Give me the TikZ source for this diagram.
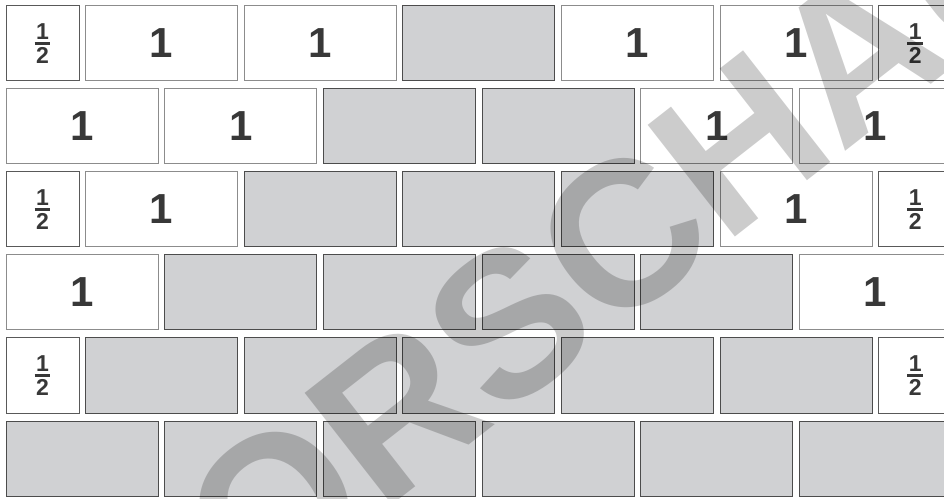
\documentclass[tikz,border=0pt]{standalone}
\usepackage{amsmath}
\usepackage{fontspec}
\setmainfont{Liberation Sans}
\usetikzlibrary{positioning}

\definecolor{brickgray}{HTML}{D0D1D3}
\definecolor{digitgray}{HTML}{383838}
\newcommand{\halfmark}{$\genfrac{}{}{2.6pt}{}{\mbox{\kern1.5pt1\kern1.5pt}}{\mbox{\kern1.5pt2\kern1.5pt}}$}

\begin{document}
\begin{tikzpicture}[x=1pt,y=1pt,
  brick/.style={rectangle,draw,line width=1pt,minimum width=152pt,minimum height=75pt,inner sep=0pt,
    text=digitgray,font=\fontsize{42}{42}\selectfont\bfseries},
  brick1/.style={brick,fill=white,draw=black!45},
  brick0/.style={brick,fill=brickgray,draw=black!70},
  halfbrick/.style={brick,fill=white,minimum width=73pt,draw=black!65,font=\fontsize{23}{23}\selectfont\bfseries},
  stamp/.style={font=\fontsize{206}{206}\selectfont\bfseries,text=black,opacity=0.2,inner sep=0pt}]
\useasboundingbox (0,0) rectangle (944,498);
\clip (0,0) rectangle (944,498);
\fill[white] (0,0) rectangle (944,498);
% rows with half bricks at both ends
\foreach \r/\cells in {0/{1,1,0,1,1}, 2/{1,0,0,0,1}, 4/{0,0,0,0,0}}{
  \node[halfbrick] (h\r l) at (42.5,{454.5-83*\r}) {\halfmark};
  \node[halfbrick] (h\r r) at (915.35,{454.5-83*\r}) {\halfmark};
  \foreach \c [count=\k] in \cells
    \node[brick\c] (b\r-\k) at ({82+158.7*(\k-0.5)},{454.5-83*\r}) {\ifnum\c=1 1\fi};
}
% rows of whole bricks
\foreach \r/\cells in {1/{1,1,0,0,1,1}, 3/{1,0,0,0,0,1}, 5/{0,0,0,0,0,0}}{
  \foreach \c [count=\k from 0] in \cells
    \node[brick\c] (b\r-\k) at ({82+158.7*\k},{454.5-83*\r}) {\ifnum\c=1 1\fi};
}
% watermark
\node[stamp,rotate=38] (preview) at (568,220) {VORSCHAU};
\end{tikzpicture}
\end{document}
